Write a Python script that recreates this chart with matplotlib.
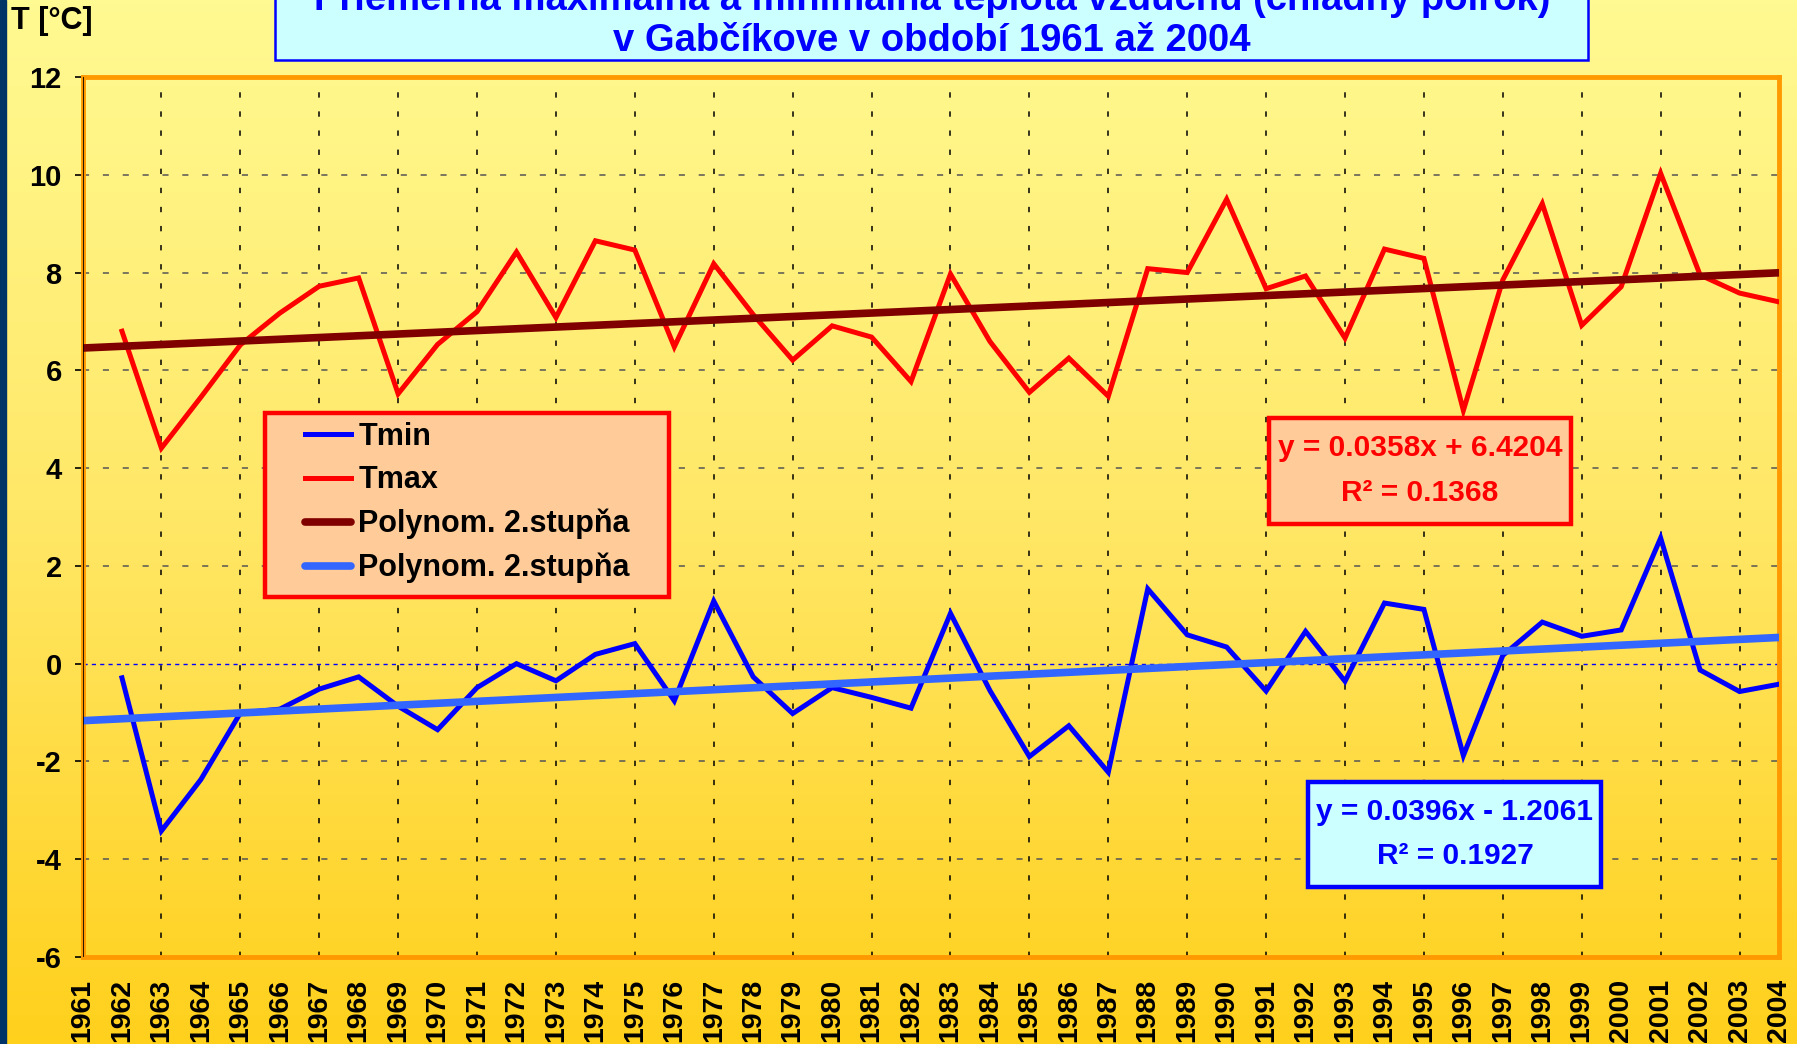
import numpy as np
import matplotlib
matplotlib.use("Agg")
import matplotlib.pyplot as plt
from matplotlib.colors import LinearSegmentedColormap
from matplotlib.patches import Rectangle

plt.rcParams['font.family'] = ['Liberation Sans', 'DejaVu Sans']
plt.rcParams['font.weight'] = 'bold'

# --- data ---
years = list(range(1961, 2005))
# 1961 has no value in the chart
tmax = [np.nan, 6.80, 4.41, 5.45, 6.52, 7.17, 7.72, 7.89, 5.52, 6.53, 7.20,
        8.42, 7.08, 8.65, 8.46, 6.48, 8.18, 7.14, 6.21, 6.91, 6.68,
        5.77, 7.97, 6.59, 5.55, 6.25, 5.47, 8.08, 8.00, 9.50, 7.67,
        7.93, 6.66, 8.48, 8.29, 5.18, 7.85, 9.41, 6.92, 7.71, 10.03,
        7.95, 7.58, 7.40]
tmin = [np.nan, -0.29, -3.42, -2.37, -1.01, -0.93, -0.52, -0.27, -0.87, -1.35, -0.49,
        0.00, -0.35, 0.19, 0.41, -0.76, 1.28, -0.27, -1.02, -0.49, -0.69,
        -0.91, 1.03, -0.55, -1.90, -1.27, -2.22, 1.53, 0.59, 0.34, -0.56,
        0.66, -0.36, 1.24, 1.11, -1.88, 0.17, 0.85, 0.56, 0.69, 2.57,
        -0.13, -0.57, -0.42]
# trend equations shown in the chart (x = 1 for 1961)
tmax_slope, tmax_icpt, tmax_r2 = 0.0358, 6.4204, 0.1368
tmin_slope, tmin_icpt, tmin_r2 = 0.0396, -1.2061, 0.1927
yticks = list(range(-6, 13, 2))

title1 = "Priemerná maximálna a minimálna teplota vzduchu (chladný polrok)"
title2 = "v Gabčíkove v období 1961 až 2004"

W, H = 1797, 1044
fig = plt.figure(figsize=(W / 100, H / 100), dpi=100)

def fx(px):
    return px / W

def fy(py):
    return 1 - py / H

# background gradient
bg = fig.add_axes([0, 0, 1, 1], zorder=-5)
cmap = LinearSegmentedColormap.from_list('bg', ['#FFFA92', '#FFE766', '#FFD01C'])
bg.imshow(np.linspace(0, 1, 256).reshape(-1, 1), aspect='auto', cmap=cmap,
          extent=[0, 1, 0, 1])
bg.axis('off')
fig.patches.append(Rectangle((0, 0), fx(6), 1, transform=fig.transFigure,
                             color='#003366', zorder=-1))

ax = fig.add_axes([fx(82.5), fy(957), fx(1779 - 82.5), (957 - 77) / H], zorder=1)
ax.set_facecolor('none')
ax.set_xlim(1961, 2004)
ax.set_ylim(-6, 12)

# grid
ax.hlines([y for y in yticks if y not in (-6, 0, 12)], 1961, 2004,
          colors='#555555', linewidth=1.1, linestyles=(0, (4, 9)), zorder=1)
ax.vlines([y for y in years if y % 2 == 1 and 1961 < y < 2004], -6, 12,
          colors='black', linewidth=1.1, linestyles=(0, (3.5, 9)), zorder=1)
ax.axhline(0, color='#0000FF', linewidth=1, linestyle=(0, (3, 3)), zorder=1)

x = np.array(years)
l_min, = ax.plot(x, tmin, color='#0000FF', lw=3.6, label='Tmin', zorder=3,
                 solid_joinstyle='miter')
l_max, = ax.plot(x, tmax, color='#FF0000', lw=3.6, label='Tmax', zorder=3,
                 solid_joinstyle='miter')
idx = x - 1960
l_tmax, = ax.plot(x, tmax_slope * idx + tmax_icpt, color='#800000', lw=5.5,
                  solid_capstyle='round', label='Polynom. 2.stupňa', zorder=4)
l_tmin, = ax.plot(x, tmin_slope * idx + tmin_icpt, color='#3366FF', lw=5.5,
                  solid_capstyle='round', label='Polynom. 2.stupňa', zorder=4)

for s in ['top', 'right', 'bottom', 'left']:
    ax.spines[s].set_color('#FF9900')
    ax.spines[s].set_linewidth(3.5)
ax.axvline(1961, color='black', lw=1.2, zorder=5)

ax.set_yticks(yticks)
ax.set_yticklabels([str(v) for v in yticks], fontsize=21, fontweight='bold')
ax.tick_params(axis='y', length=6, width=1.2, color='black', pad=9)
ax.set_xticks(years)
ax.set_xticklabels([str(y) for y in years], rotation=90, fontsize=20.5,
                   fontweight='bold')
ax.tick_params(axis='x', length=0, pad=16)

# y label
fig.text(fx(11), fy(21), "T [°C]", fontsize=22, fontweight='bold',
         ha='left', va='center')

# title box
fig.patches.append(Rectangle((fx(275), fy(60)), fx(1588 - 275), 0.2,
                             transform=fig.transFigure, facecolor='#CCFFFF',
                             edgecolor='#0000FF', lw=1.8, zorder=2))
fig.text(fx(932), fy(10), title1, fontsize=27.5, fontweight='bold',
         color='#0000FF', ha='center', va='baseline', zorder=3)
fig.text(fx(932), fy(51), title2, fontsize=27.5, fontweight='bold',
         color='#0000FF', ha='center', va='baseline', zorder=3)

# legend
ax.add_patch(Rectangle((fx(265), fy(597)), fx(669 - 265), (597 - 413) / H,
                       transform=fig.transFigure, facecolor='#FFCC99',
                       edgecolor='#FF0000', lw=3.2, zorder=6))
leg = ax.legend(handles=[l_min, l_max, l_tmax, l_tmin], frameon=False,
                loc='upper left', bbox_to_anchor=(fx(305), fy(422)),
                bbox_transform=fig.transFigure, borderpad=0, borderaxespad=0,
                handlelength=1.5, handletextpad=0.25, labelspacing=0.44,
                prop={'size': 22, 'weight': 'bold'})
leg.set_zorder(7)

# trend equation boxes
ax.add_patch(Rectangle((fx(1269), fy(524)), fx(1571 - 1269), (524 - 418) / H,
                       transform=fig.transFigure, facecolor='#FFCC99',
                       edgecolor='#FF0000', lw=3.2, zorder=6))
ax.text(fx(1420), fy(448), f"y = {tmax_slope}x + {tmax_icpt}", transform=fig.transFigure,
        fontsize=21.5, fontweight='bold', color='#FF0000', ha='center', va='center', zorder=7)
ax.text(fx(1420), fy(493), f"R² = {tmax_r2}", transform=fig.transFigure,
        fontsize=21.5, fontweight='bold', color='#FF0000', ha='center', va='center', zorder=7)

ax.add_patch(Rectangle((fx(1308), fy(887)), fx(1601 - 1308), (887 - 782) / H,
                       transform=fig.transFigure, facecolor='#CCFFFF',
                       edgecolor='#0000FF', lw=3.2, zorder=6))
ax.text(fx(1455), fy(812), f"y = {tmin_slope}x - {abs(tmin_icpt)}", transform=fig.transFigure,
        fontsize=21.5, fontweight='bold', color='#0000FF', ha='center', va='center', zorder=7)
ax.text(fx(1455), fy(856), f"R² = {tmin_r2}", transform=fig.transFigure,
        fontsize=21.5, fontweight='bold', color='#0000FF', ha='center', va='center', zorder=7)

fig.savefig('out.png', dpi=100)
plt.close(fig)
